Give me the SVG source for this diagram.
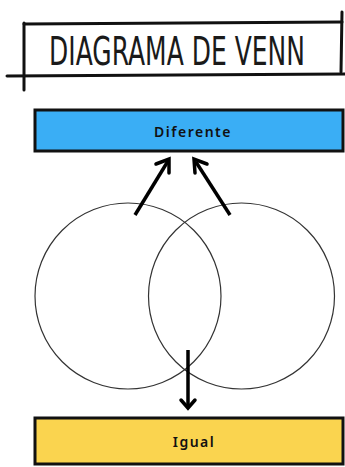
<svg xmlns="http://www.w3.org/2000/svg" width="345" height="467" viewBox="0 0 345 467">
  <defs>
    <style>
      .frame { fill: none; stroke: #111; stroke-width: 3; stroke-linecap: round; }
      .title { font-family: "DejaVu Sans", sans-serif; font-size: 25px; fill: #1a1a1a; }
      .label { font-family: "Noto Sans", "DejaVu Sans", sans-serif; font-size: 14px; font-weight: 600; fill: #111; letter-spacing: 1.5px; }
      .box { stroke: #111; stroke-width: 3; }
      .venn { fill: none; stroke: #333; stroke-width: 1.2; }
      .arrow { fill: none; stroke: #000; stroke-width: 3.5; stroke-linecap: butt; }
      .head { fill: none; stroke: #000; stroke-width: 3.5; stroke-linecap: round; stroke-linejoin: miter; }
    </style>
  </defs>
  <rect width="345" height="467" fill="#ffffff"/>

  <g id="title">
    <path class="frame" d="M24,24 L342,22"/>
    <path class="frame" d="M24,23 L24,90"/>
    <path class="frame" d="M7,76 L345,74"/>
    <path class="frame" d="M342,12 L341,72"/>
    <text class="title" transform="translate(177,65) scale(1,1.55)" x="0" y="0" text-anchor="middle">DIAGRAMA DE VENN</text>
  </g>

  <g id="diferente">
    <rect class="box" x="35" y="110" width="308" height="41" fill="#3AAEF5"/>
    <text class="label" x="193" y="137" text-anchor="middle">Diferente</text>
  </g>

  <g id="venn">
    <circle class="venn" cx="128" cy="296" r="93"/>
    <circle class="venn" cx="241.5" cy="296" r="93"/>
  </g>

  <g id="igual">
    <rect class="box" x="35" y="418" width="308" height="46" fill="#FAD44F"/>
    <text class="label" x="194" y="447" text-anchor="middle">Igual</text>
  </g>

  <g id="connectors">
    <line class="arrow" x1="135" y1="215" x2="168" y2="161"/>
    <path class="head" d="M156,164 L169,159 L169,173"/>
    <line class="arrow" x1="230" y1="215" x2="196" y2="162"/>
    <path class="head" d="M195,173 L194,159 L207,164"/>
    <line class="arrow" x1="188" y1="350" x2="188" y2="406"/>
    <path class="head" d="M181,400 L188,408 L195,400"/>
  </g>
</svg>
